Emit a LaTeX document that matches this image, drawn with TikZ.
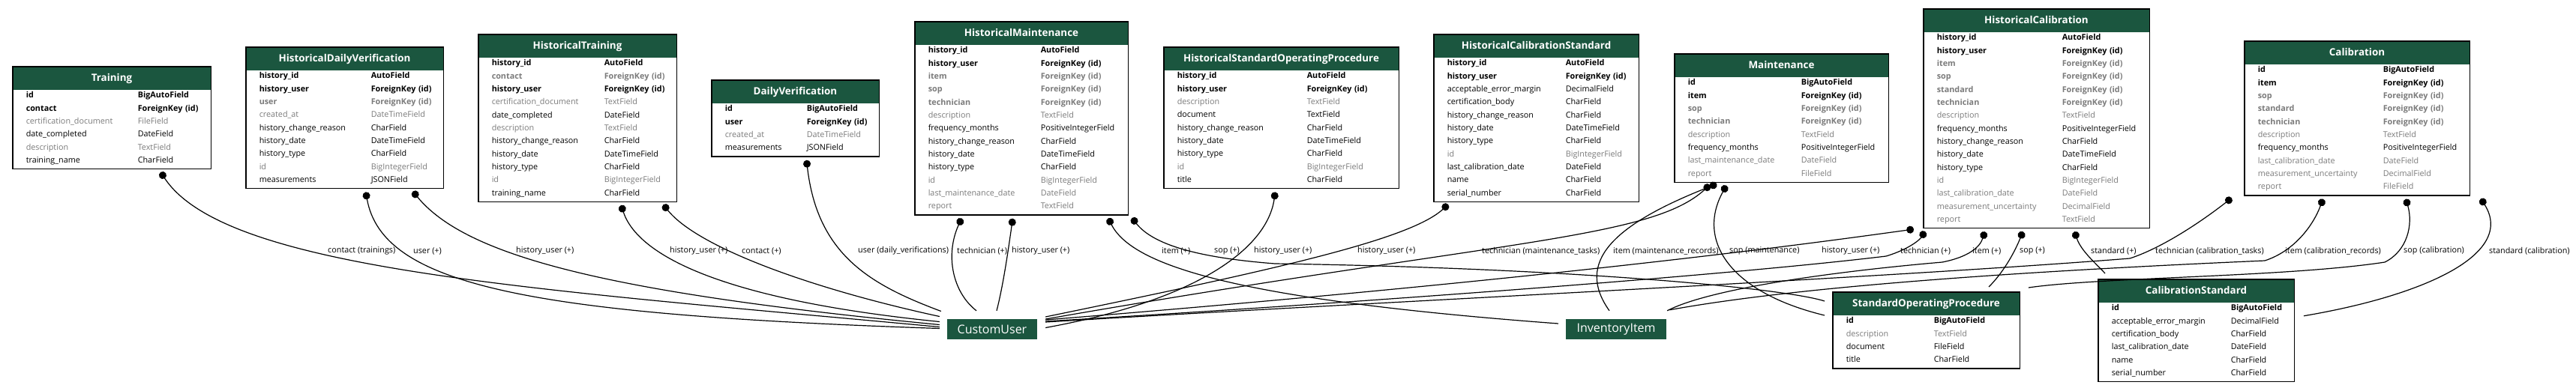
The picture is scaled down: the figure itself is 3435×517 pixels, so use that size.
\documentclass[tikz,border=0pt]{standalone}
\usepackage{fontspec}
\setmainfont{Open Sans}
\usepackage{array}
\usetikzlibrary{shapes.multipart}
\usetikzlibrary{arrows.meta}

\definecolor{hdr}{HTML}{1B563F}
\definecolor{nul}{HTML}{7B7B7B}

% table parts
\newcommand\hd[1]{\noindent\rule[-11.5pt]{0pt}{30pt}{\color{white}\bfseries\fontsize{13.4}{14}\selectfont #1}}
\newenvironment{fields}[2]{\noindent\renewcommand\arraystretch{0}%
  \begin{tabular}{@{\hspace{18pt}}>{\rule[-7.4pt]{0pt}{17.33pt}}p{#1pt}@{}p{#2pt}@{}}}{\end{tabular}}
\newcommand\rk[2]{\textbf{#1}&\textbf{#2}\\}
\newcommand\rg[2]{\textcolor{nul}{#1}&\textcolor{nul}{#2}\\}
\newcommand\rgk[2]{\textcolor{nul}{\textbf{#1}}&\textcolor{nul}{\textbf{#2}}\\}
\newcommand\rn[2]{#1&#2\\}

\tikzset{
  tbl/.style={rectangle split, rectangle split parts=2, rectangle split part fill={hdr,white},
    rectangle split draw splits=false, draw, line width=1.5pt, inner sep=0pt,
    anchor=north west, align=center, font=\fontsize{10.8}{17.33}\selectfont},
  ext/.style={fill=hdr, text=white, font=\fontsize{16}{18}\selectfont, inner sep=0pt, minimum height=27pt},
  lbl/.style={anchor=west, inner sep=0pt, font=\fontsize{10.8}{12}\selectfont},
  rel/.style={line width=1.2pt, {Circle[length=10pt]}-, shorten <=4pt}
}

\begin{document}
\begin{tikzpicture}[x=1pt,y=-1pt]
\path[use as bounding box, fill=white] (0,0) rectangle (3435,517);

% models
\node[tbl, text width=264.5pt] (training) at (16,88) {\hd{Training}\nodepart{two}%
  \begin{fields}{149}{97.5}
  \rk{id}{BigAutoField}
  \rk{contact}{ForeignKey (id)}
  \rg{certification\_document}{FileField}
  \rn{date\_completed}{DateField}
  \rg{description}{TextField}
  \rn{training\_name}{CharField}
  \end{fields}};
\node[tbl, text width=263.5pt] (hdv) at (327,62) {\hd{HistoricalDailyVerification}\nodepart{two}%
  \begin{fields}{149}{96.5}
  \rk{history\_id}{AutoField}
  \rk{history\_user}{ForeignKey (id)}
  \rgk{user}{ForeignKey (id)}
  \rg{created\_at}{DateTimeField}
  \rn{history\_change\_reason}{CharField}
  \rn{history\_date}{DateTimeField}
  \rn{history\_type}{CharField}
  \rg{id}{BigIntegerField}
  \rn{measurements}{JSONField}
  \end{fields}};
\node[tbl, text width=264.5pt] (ht) at (637,45) {\hd{HistoricalTraining}\nodepart{two}%
  \begin{fields}{150}{96.5}
  \rk{history\_id}{AutoField}
  \rgk{contact}{ForeignKey (id)}
  \rk{history\_user}{ForeignKey (id)}
  \rg{certification\_document}{TextField}
  \rn{date\_completed}{DateField}
  \rg{description}{TextField}
  \rn{history\_change\_reason}{CharField}
  \rn{history\_date}{DateTimeField}
  \rn{history\_type}{CharField}
  \rg{id}{BigIntegerField}
  \rn{training\_name}{CharField}
  \end{fields}};
\node[tbl, text width=223.5pt] (dv) at (948,106) {\hd{DailyVerification}\nodepart{two}%
  \begin{fields}{109}{96.5}
  \rk{id}{BigAutoField}
  \rk{user}{ForeignKey (id)}
  \rg{created\_at}{DateTimeField}
  \rn{measurements}{JSONField}
  \end{fields}};
\node[tbl, text width=284.5pt] (hm) at (1219,28) {\hd{HistoricalMaintenance}\nodepart{two}%
  \begin{fields}{150}{116.5}
  \rk{history\_id}{AutoField}
  \rk{history\_user}{ForeignKey (id)}
  \rgk{item}{ForeignKey (id)}
  \rgk{sop}{ForeignKey (id)}
  \rgk{technician}{ForeignKey (id)}
  \rg{description}{TextField}
  \rn{frequency\_months}{PositiveIntegerField}
  \rn{history\_change\_reason}{CharField}
  \rn{history\_date}{DateTimeField}
  \rn{history\_type}{CharField}
  \rg{id}{BigIntegerField}
  \rg{last\_maintenance\_date}{DateField}
  \rg{report}{TextField}
  \end{fields}};
\node[tbl, text width=313.5pt] (hsop) at (1551,62) {\hd{HistoricalStandardOperatingProcedure}\nodepart{two}%
  \begin{fields}{173}{122.5}
  \rk{history\_id}{AutoField}
  \rk{history\_user}{ForeignKey (id)}
  \rg{description}{TextField}
  \rn{document}{TextField}
  \rn{history\_change\_reason}{CharField}
  \rn{history\_date}{DateTimeField}
  \rn{history\_type}{CharField}
  \rg{id}{BigIntegerField}
  \rn{title}{CharField}
  \end{fields}};
\node[tbl, text width=273.5pt] (hcs) at (1911,45) {\hd{HistoricalCalibrationStandard}\nodepart{two}%
  \begin{fields}{158}{97.5}
  \rk{history\_id}{AutoField}
  \rk{history\_user}{ForeignKey (id)}
  \rn{acceptable\_error\_margin}{DecimalField}
  \rn{certification\_body}{CharField}
  \rn{history\_change\_reason}{CharField}
  \rn{history\_date}{DateTimeField}
  \rn{history\_type}{CharField}
  \rg{id}{BigIntegerField}
  \rn{last\_calibration\_date}{DateField}
  \rn{name}{CharField}
  \rn{serial\_number}{CharField}
  \end{fields}};
\node[tbl, text width=285.5pt] (maint) at (2232,71) {\hd{Maintenance}\nodepart{two}%
  \begin{fields}{151}{116.5}
  \rk{id}{BigAutoField}
  \rk{item}{ForeignKey (id)}
  \rgk{sop}{ForeignKey (id)}
  \rgk{technician}{ForeignKey (id)}
  \rg{description}{TextField}
  \rn{frequency\_months}{PositiveIntegerField}
  \rg{last\_maintenance\_date}{DateField}
  \rg{report}{FileField}
  \end{fields}};
\node[tbl, text width=301.5pt] (hc) at (2564,11) {\hd{HistoricalCalibration}\nodepart{two}%
  \begin{fields}{167}{116.5}
  \rk{history\_id}{AutoField}
  \rk{history\_user}{ForeignKey (id)}
  \rgk{item}{ForeignKey (id)}
  \rgk{sop}{ForeignKey (id)}
  \rgk{standard}{ForeignKey (id)}
  \rgk{technician}{ForeignKey (id)}
  \rg{description}{TextField}
  \rn{frequency\_months}{PositiveIntegerField}
  \rn{history\_change\_reason}{CharField}
  \rn{history\_date}{DateTimeField}
  \rn{history\_type}{CharField}
  \rg{id}{BigIntegerField}
  \rg{last\_calibration\_date}{DateField}
  \rg{measurement\_uncertainty}{DecimalField}
  \rg{report}{TextField}
  \end{fields}};
\node[tbl, text width=300.5pt] (cal) at (2992,54) {\hd{Calibration}\nodepart{two}%
  \begin{fields}{167}{115.5}
  \rk{id}{BigAutoField}
  \rk{item}{ForeignKey (id)}
  \rgk{sop}{ForeignKey (id)}
  \rgk{standard}{ForeignKey (id)}
  \rgk{technician}{ForeignKey (id)}
  \rg{description}{TextField}
  \rn{frequency\_months}{PositiveIntegerField}
  \rg{last\_calibration\_date}{DateField}
  \rg{measurement\_uncertainty}{DecimalField}
  \rg{report}{FileField}
  \end{fields}};
\node[tbl, text width=249.5pt] (sop) at (2443,389) {\hd{StandardOperatingProcedure}\nodepart{two}%
  \begin{fields}{117}{114.5}
  \rk{id}{BigAutoField}
  \rg{description}{TextField}
  \rn{document}{FileField}
  \rn{title}{CharField}
  \end{fields}};
\node[tbl, text width=261.5pt] (cs) at (2797,372) {\hd{CalibrationStandard}\nodepart{two}%
  \begin{fields}{159}{84.5}
  \rk{id}{BigAutoField}
  \rn{acceptable\_error\_margin}{DecimalField}
  \rn{certification\_body}{CharField}
  \rn{last\_calibration\_date}{DateField}
  \rn{name}{CharField}
  \rn{serial\_number}{CharField}
  \end{fields}};

% outside models
\node[ext, minimum width=120pt] (customuser) at (1323,439.5) {CustomUser};
\node[ext, minimum width=134pt] (inventoryitem) at (2155,439.5) {InventoryItem};

% relations to CustomUser
\draw[rel] (212,0 |- training.south) .. controls (300,360) and (700,385) .. ([shift={(-10,-3)}]customuser.west);
\draw[rel] (487,0 |- hdv.south) .. controls (510,380) and (700,420) .. ([shift={(-10,-1)}]customuser.west);
\draw[rel] (548,0 |- hdv.south) .. controls (620,340) and (800,390) .. ([shift={(-10,-6)}]customuser.west);
\draw[rel] (827,0 |- ht.south) .. controls (850,340) and (960,400) .. ([shift={(-10,-10)}]customuser.west);
\draw[rel] (882,0 |- ht.south) .. controls (930,330) and (1080,385) .. ([shift={(-10,-17)}]customuser.west);
\draw[rel] (1075,0 |- dv.south) .. controls (1090,340) and (1160,380) .. ([shift={(-8,-24)}]customuser.west);
\draw[rel] (1284,0 |- hm.south) .. controls (1260,340) and (1270,390) .. ([shift={(-21,-11)}]customuser.north);
\draw[rel] (1351,0 |- hm.south) .. controls (1345,330) and (1338,380) .. ([shift={(6,-11)}]customuser.north);
\draw[rel] (1701,0 |- hsop.south) .. controls (1690,330) and (1600,400) .. ([shift={(11,-2)}]customuser.east);
\draw[rel] (1934,0 |- hcs.south) .. controls (1880,320) and (1700,360) .. ([shift={(11,-16.5)}]customuser.east);
\draw[rel] (2283,0 |- maint.south) .. controls (2200,320) and (2000,320) .. ([shift={(11,-13.5)}]customuser.east);
\draw[rel] ([shift={(-8,0)}]hc.south west) .. controls (2450,320) and (2100,370) .. ([shift={(11,-12.5)}]customuser.east);
\draw[rel] (2569,0 |- hc.south) .. controls (2560,320) and (2545,333) .. (2515,342)
  .. controls (2300,368) and (1800,405) .. ([shift={(11,-10.5)}]customuser.east);
\draw[rel] (2979,0 |- cal.south) .. controls (2930,300) and (2880,332) .. (2840,345)
  .. controls (2500,372) and (1800,405) .. ([shift={(11,-9.5)}]customuser.east);

% relations to InventoryItem
\draw[rel] (1476,0 |- hm.south) .. controls (1510,355) and (1650,400) .. ([shift={(-10,-7.5)}]inventoryitem.west);
\draw[rel] (2293,0 |- maint.south) .. controls (2150,300) and (2100,350) .. ([shift={(-9,-11)}]inventoryitem.north);
\draw[rel] (2648,0 |- hc.south) .. controls (2640,330) and (2625,343) .. (2590,350)
  .. controls (2450,362) and (2280,385) .. ([shift={(1,-11)}]inventoryitem.north east);
\draw[rel] (3099,0 |- cal.south) .. controls (3085,300) and (3060,335) .. (3020,348)
  .. controls (2700,362) and (2400,382) .. ([shift={(4,-12)}]inventoryitem.north east);

% relations to StandardOperatingProcedure
\draw[rel] (1507,0 |- hm.south) .. controls (1540,330) and (1610,345) .. (1700,352) .. controls (2100,358) and (2380,385) .. ([shift={(-10,13)}]sop.north west);
\draw[rel] (2304,0 |- maint.south) .. controls (2262,320) and (2305,390) .. ([shift={(-10,32)}]sop.north west);
\draw[rel] (2699,0 |- hc.south) .. controls (2685,340) and (2670,365) .. ([shift={(-42,-6)}]sop.north east);
\draw[rel] (3207,0 |- cal.south) .. controls (3218,300) and (3210,335) .. (3180,350)
  .. controls (3050,370) and (2800,370) .. ([shift={(11,-5)}]sop.north east);

% relations to CalibrationStandard
\draw[rel] (2765,0 |- hc.south) .. controls (2775,335) and (2795,352) .. ([shift={(10,-7)}]cs.north west);
\draw[rel] (3306,0 |- cal.south) .. controls (3355,340) and (3230,395) .. ([shift={(12,-19.5)}]cs.east);

% edge labels
\node[lbl] (lb1) at (437,335) {contact (trainings)};
\node[lbl] (lb2) at (551,335) {user (+)};
\node[lbl] (lb3) at (688,335) {history\_user (+)};
\node[lbl] (lb4) at (893,335) {history\_user (+)};
\node[lbl] (lb5) at (989,335) {contact (+)};
\node[lbl] (lb6) at (1144,335) {user (daily\_verifications)};
\node[lbl] (lb7) at (1276,335) {technician (+)};
\node[lbl] (lb8) at (1349,335) {history\_user (+)};
\node[lbl] (lb9) at (1549,335) {item (+)};
\node[lbl] (lb10) at (1619,335) {sop (+)};
\node[lbl] (lb11) at (1672,335) {history\_user (+)};
\node[lbl] (lb12) at (1810,335) {history\_user (+)};
\node[lbl] (lb13) at (1976,335) {technician (maintenance\_tasks)};
\node[lbl] (lb14) at (2151,335) {item (maintenance\_records)};
\node[lbl] (lb15) at (2306,335) {sop (maintenance)};
\node[lbl] (lb16) at (2429,335) {history\_user (+)};
\node[lbl] (lb17) at (2534,335) {technician (+)};
\node[lbl] (lb18) at (2630,335) {item (+)};
\node[lbl] (lb19) at (2693,335) {sop (+)};
\node[lbl] (lb20) at (2788,335) {standard (+)};
\node[lbl] (lb21) at (2874,335) {technician (calibration\_tasks)};
\node[lbl] (lb22) at (3047,335) {item (calibration\_records)};
\node[lbl] (lb23) at (3205,335) {sop (calibration)};
\node[lbl] (lb24) at (3319,335) {standard (calibration)};
\end{tikzpicture}
\end{document}
